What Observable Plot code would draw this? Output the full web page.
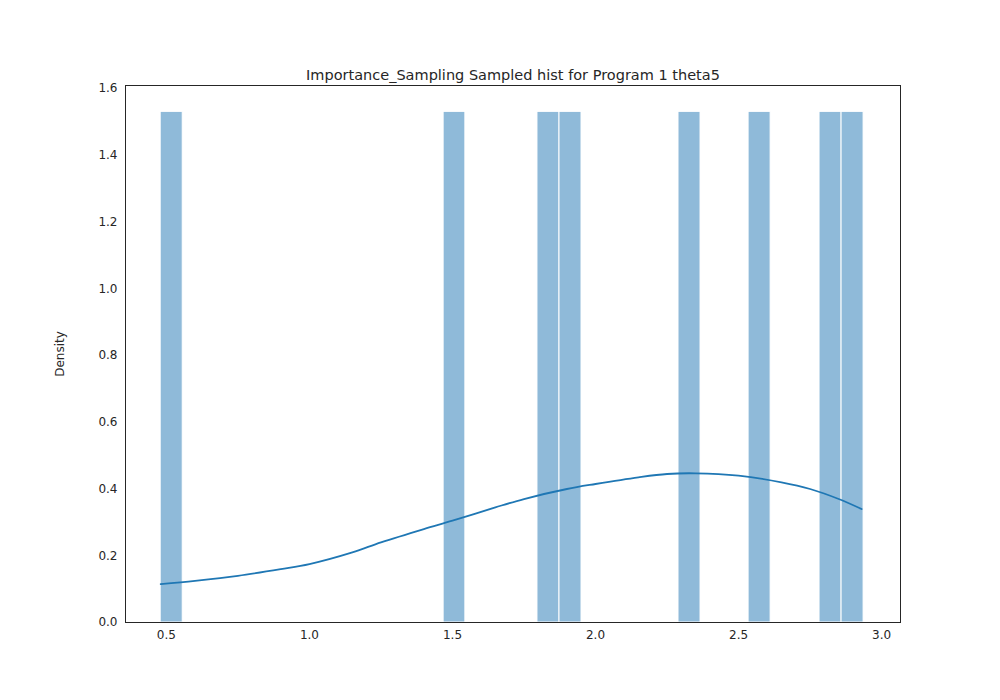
<!DOCTYPE html>
<html><head><meta charset="utf-8">
<script src="https://cdn.jsdelivr.net/npm/d3@7"></script>
<script src="https://cdn.jsdelivr.net/npm/@observablehq/plot@0.6"></script>
<style>body{margin:0;background:#fff}</style>
</head><body><div id="chart"></div>
<script>
const binStart = [0.48, 1.469, 1.797, 1.874, 2.29, 2.535, 2.783, 2.86]
const binEnd   = [0.557, 1.545, 1.874, 1.951, 2.367, 2.612, 2.86, 2.937]
const density  = [1.53, 1.53, 1.53, 1.53, 1.53, 1.53, 1.53, 1.53]
const kdeX = [0.48, 0.6, 0.75, 0.9, 1.0, 1.15, 1.25, 1.4, 1.5, 1.65, 1.75, 1.9, 2.0, 2.15, 2.25, 2.35, 2.5, 2.65, 2.75, 2.85, 2.93]
const kdeY = [0.115, 0.125, 0.14, 0.16, 0.175, 0.21, 0.24, 0.28, 0.305, 0.345, 0.37, 0.40, 0.415, 0.435, 0.445, 0.447, 0.44, 0.42, 0.40, 0.37, 0.34]

const bars = binStart.map((s, i) => ({x1: s, x2: binEnd[i], y: density[i]}))
const kde = kdeX.map((x, i) => ({x, y: kdeY[i]}))

const chart = Plot.plot({
  width: 1000, height: 700,
  marginLeft: 125, marginRight: 100, marginTop: 85, marginBottom: 78,
  style: {fontFamily: "DejaVu Sans, sans-serif", fontSize: "12px", color: "#262626"},
  x: {domain: [0.357, 3.066], ticks: [0.5, 1, 1.5, 2, 2.5, 3], tickFormat: d3.format(".1f"), tickSize: 0, tickPadding: 8, label: null},
  y: {domain: [0, 1.609], ticks: d3.range(0, 1.61, 0.2), tickFormat: d3.format(".1f"), tickSize: 0, tickPadding: 8, label: "Density", labelAnchor: "center", labelArrow: "none", labelOffset: 70},
  marks: [
    Plot.rectY(bars, {x1: "x1", x2: "x2", y: "y", fill: "#8fbad9", stroke: "white", strokeWidth: 1, insetLeft: 0, insetRight: 0}),
    Plot.line(kde, {x: "x", y: "y", curve: "catmull-rom", stroke: "#1f77b4", strokeWidth: 1.8}),
    Plot.frame({stroke: "#262626", strokeWidth: 1}),
    Plot.text(["Importance_Sampling Sampled hist for Program 1 theta5"], {frameAnchor: "top", dy: -16, fontSize: 14.5, fill: "#262626"})
  ]
})
document.getElementById("chart").append(chart)
</script></body></html>
